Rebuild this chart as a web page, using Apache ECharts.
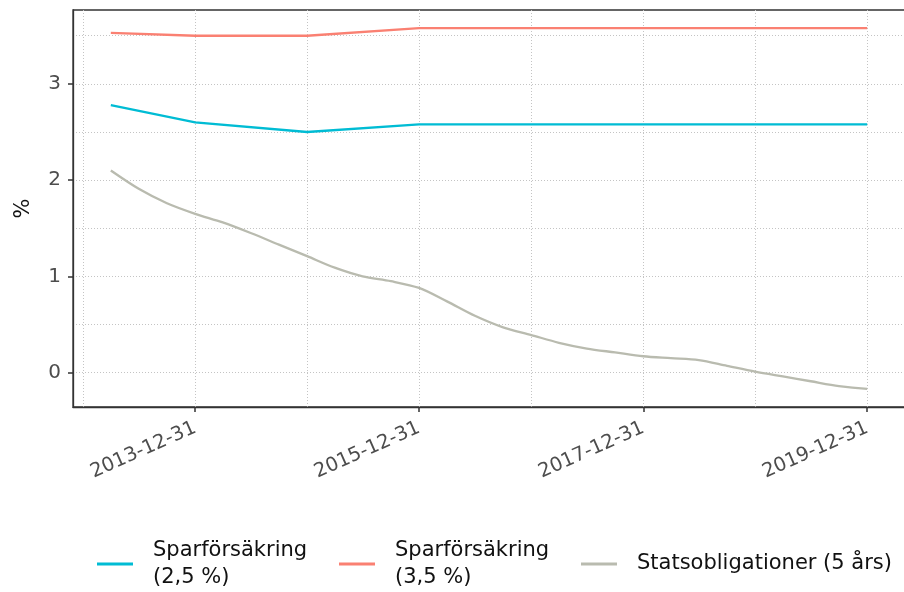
<!DOCTYPE html>
<html>
<head>
<meta charset="utf-8">
<script src="https://cdn.jsdelivr.net/npm/echarts@6/dist/echarts.min.js"></script>
<style>
  html, body { margin: 0; padding: 0; background: #fff; }
  #chart { width: 904px; height: 592px; }
</style>
</head>
<body>
<div id="chart"></div>
<script>
// quarterly dates for the 5-year government bond
const bondDates = [
  "2013-03-31", "2013-06-30", "2013-09-30", "2013-12-31",
  "2014-03-31", "2014-06-30", "2014-09-30", "2014-12-31",
  "2015-03-31", "2015-06-30", "2015-09-30", "2015-12-31",
  "2016-03-31", "2016-06-30", "2016-09-30", "2016-12-31",
  "2017-03-31", "2017-06-30", "2017-09-30", "2017-12-31",
  "2018-03-31", "2018-06-30", "2018-09-30", "2018-12-31",
  "2019-03-31", "2019-06-30", "2019-09-30", "2019-12-31"
];
const bondValues = [
  2.10, 1.91, 1.76, 1.65,
  1.56, 1.45, 1.33, 1.21,
  1.09, 1.00, 0.95, 0.88,
  0.74, 0.59, 0.47, 0.39,
  0.31, 0.25, 0.21, 0.17,
  0.15, 0.13, 0.07, 0.01,
  -0.04, -0.09, -0.14, -0.17
];
// yearly dates for the savings insurance rates
const insDates = [
  "2013-03-31", "2013-12-31", "2014-12-31", "2015-12-31",
  "2016-12-31", "2017-12-31", "2018-12-31", "2019-12-31"
];
const ins25 = [2.78, 2.60, 2.50, 2.58, 2.58, 2.58, 2.58, 2.58];
const ins35 = [3.53, 3.50, 3.50, 3.58, 3.58, 3.58, 3.58, 3.58];

const seriesNames = ["Sparförsäkring\n(2,5 %)", "Sparförsäkring\n(3,5 %)", "Statsobligationer (5 års)"];
const xLabelDates = ["2013-12-31", "2015-12-31", "2017-12-31", "2019-12-31"];
const xGridDates = ["2012-12-31", "2013-12-31", "2014-12-31", "2015-12-31", "2016-12-31", "2017-12-31", "2018-12-31", "2019-12-31"];
const yLabels = [0, 1, 2, 3];
const yGrid = [0, 0.5, 1, 1.5, 2, 2.5, 3, 3.5];

const t = s => Date.UTC(+s.slice(0, 4), +s.slice(5, 7) - 1, +s.slice(8, 10));
const pad = n => (n < 10 ? "0" : "") + n;
const fmt = v => { const d = new Date(v); return d.getUTCFullYear() + "-" + pad(d.getUTCMonth() + 1) + "-" + pad(d.getUTCDate()); };

// ggplot-like 5% expansion
const x0 = t(bondDates[0]), x1 = t(bondDates[bondDates.length - 1]);
const xMin = x0 - 0.05 * (x1 - x0), xMax = x1 + 0.05 * (x1 - x0);
const allY = bondValues.concat(ins25, ins35);
const y0 = Math.min(...allY), y1 = Math.max(...allY);
const yMin = y0 - 0.05 * (y1 - y0), yMax = y1 + 0.05 * (y1 - y0);

const font = "DejaVu Sans";
const gridLine = { show: true, lineStyle: { color: "#c4c4c4", width: 1, type: [1, 2] } };

const chart = echarts.init(document.getElementById("chart"));
chart.setOption({
  animation: false,
  textStyle: { fontFamily: font },
  grid: { left: 73, top: 10, width: 832, height: 397, outerBoundsMode: "none", containLabel: false,
    show: true, borderColor: "#333", borderWidth: 1.3, backgroundColor: "transparent" },
  xAxis: [{
    type: "value", min: xMin, max: xMax, scale: true,
    axisLine: { onZero: false, lineStyle: { color: "#333", width: 1.3 } },
    axisTick: { length: 5, lineStyle: { color: "#333", width: 1.5 }, customValues: xLabelDates.map(t) },
    axisLabel: { customValues: xLabelDates.map(t), formatter: v => fmt(v), rotate: 24, margin: 20, fontSize: 19.5, color: "#4d4d4d", fontFamily: font, hideOverlap: false },
    splitLine: { show: false }
  }, {
    type: "value", min: xMin, max: xMax, scale: true, position: "bottom",
    axisLine: { show: false, onZero: false }, axisLabel: { show: false },
    axisTick: { show: false, customValues: xGridDates.map(t) },
    splitLine: gridLine
  }],
  yAxis: [{
    type: "value", min: yMin, max: yMax,
    name: "%", nameLocation: "middle", nameGap: 39, nameRotate: 90,
    nameTextStyle: { fontSize: 21, color: "#111", fontFamily: font },
    axisLine: { show: true, onZero: false, lineStyle: { color: "#333", width: 1.3 } },
    axisTick: { show: true, length: 5, lineStyle: { color: "#333", width: 1.5 }, customValues: yLabels },
    axisLabel: { customValues: yLabels, margin: 12, fontSize: 20, color: "#4d4d4d", fontFamily: font },
    splitLine: { show: false }
  }, {
    type: "value", min: yMin, max: yMax, position: "left",
    axisLine: { show: false, onZero: false }, axisLabel: { show: false },
    axisTick: { show: false, customValues: yGrid },
    splitLine: gridLine
  }],
  legend: {
    left: 92, top: 532,
    icon: "rect", itemWidth: 36, itemHeight: 3, itemGap: 20,
    textStyle: { fontSize: 21, lineHeight: 27, color: "#111", fontFamily: font, padding: [0, 0, 0, 15], width: 166 },
    data: seriesNames
  },
  series: [
    { name: seriesNames[0], type: "line", showSymbol: false, symbol: "none", color: "#00BCD4", lineStyle: { width: 2.3 },
      data: insDates.map((d, i) => [t(d), ins25[i]]) },
    { name: seriesNames[1], type: "line", showSymbol: false, symbol: "none", color: "#FA8072", lineStyle: { width: 2.3 },
      data: insDates.map((d, i) => [t(d), ins35[i]]) },
    { name: seriesNames[2], type: "line", showSymbol: false, symbol: "none", color: "#B9BBAF", smooth: 0.3, lineStyle: { width: 2.3 },
      data: bondDates.map((d, i) => [t(d), bondValues[i]]) }
  ]
});
</script>
</body>
</html>
